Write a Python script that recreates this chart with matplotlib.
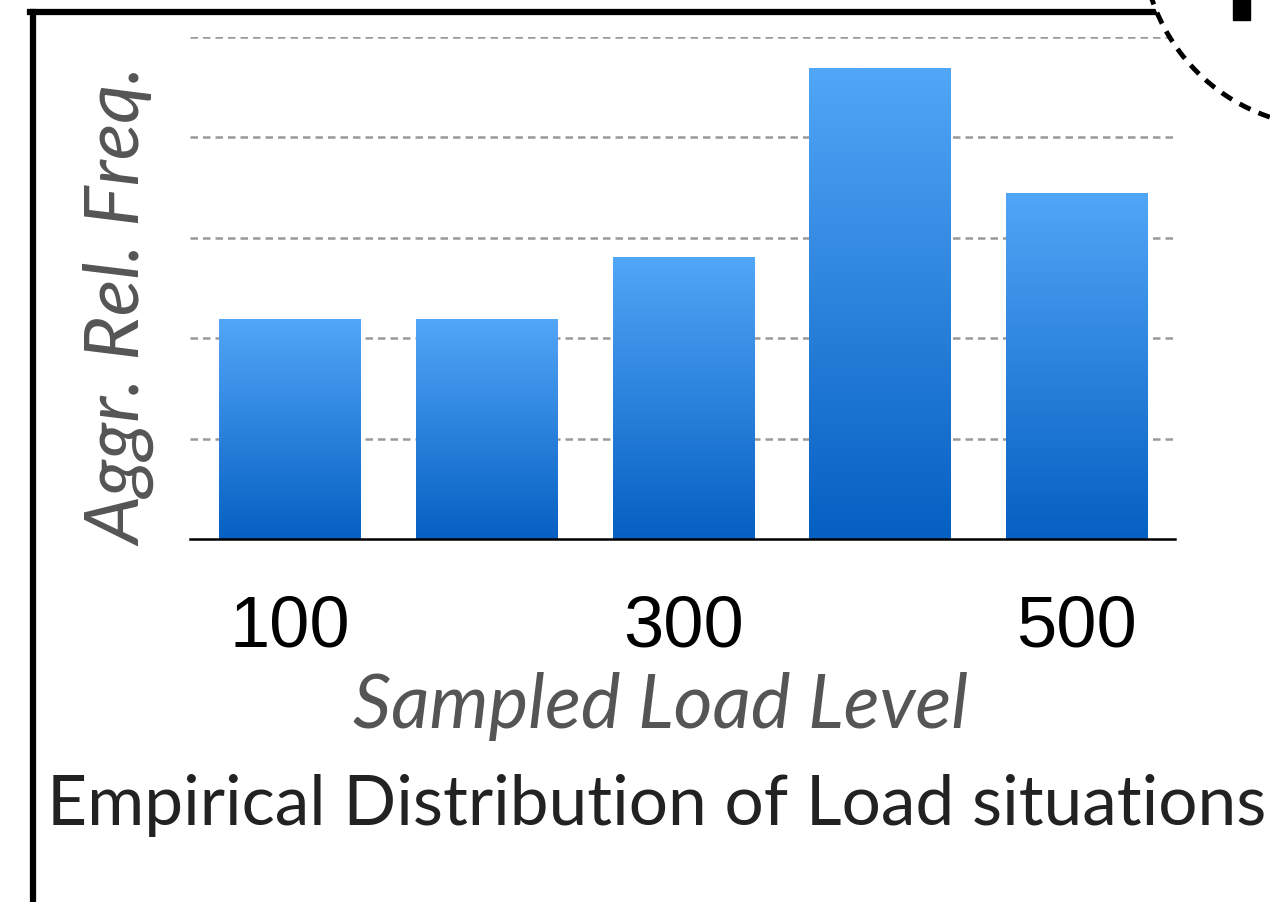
import numpy as np
import matplotlib
matplotlib.use("Agg")
import matplotlib.pyplot as plt
from matplotlib.patches import Rectangle, Circle
from matplotlib.lines import Line2D
from matplotlib.colors import LinearSegmentedColormap

load_levels = ["100", "200", "300", "400", "500"]
rel_freq = [2.19, 2.19, 2.81, 4.69, 3.45]
shown_ticks = ["100", "", "300", "", "500"]

fig = plt.figure(figsize=(12.7, 9.03), dpi=100)
ax = fig.add_axes([0.1496, 0.402, 0.7756, 0.556])

x = np.arange(len(load_levels))
bars = ax.bar(x, rel_freq, width=0.72, color="none", edgecolor="none", zorder=3)

# vertical gradient for each bar
grad_cmap = LinearSegmentedColormap.from_list("blu", ["#0660C2", "#52A6F7"])
grad = np.linspace(0, 1, 256).reshape(-1, 1)
for b in bars:
    x0, w, h = b.get_x(), b.get_width(), b.get_height()
    im = ax.imshow(grad, cmap=grad_cmap, origin="lower", aspect="auto",
                   extent=[x0, x0 + w, 0, h], zorder=3)
    im.set_clip_path(b)

ax.set_xlim(-0.51, 4.5)
ax.set_ylim(0, 5)
ax.set_yticks([1, 2, 3, 4, 5])
ax.yaxis.grid(True, color="#999999", linestyle=(0, (3, 2)), linewidth=1.8, zorder=0)
ax.tick_params(axis="y", left=False, labelleft=False)
ax.tick_params(axis="x", bottom=False, pad=36)
ax.set_xticks(x)
ax.set_xticklabels(shown_ticks, fontsize=52, family="Liberation Sans")
for s in ["top", "right", "left"]:
    ax.spines[s].set_visible(False)
ax.spines["bottom"].set_linewidth(1.8)
ax.spines["bottom"].set_zorder(4)

fig.text(0.52, 0.218, "Sampled Load Level", fontsize=54, style="italic",
         color="#555555", family="Lato", ha="center", va="center")
fig.text(0.095, 0.66, "Aggr. Rel. Freq.", fontsize=55, style="italic",
         color="#555555", family="Lato", ha="center", va="center", rotation=90)
fig.text(0.037, 0.108, "Empirical Distribution of Load situations", fontsize=50,
         color="#222222", family="Lato", ha="left", va="center")

# frame around the panel
fig.add_artist(Line2D([0.026, 0.026], [0.0, 0.986], color="black", lw=4.5,
                      transform=fig.transFigure))
fig.add_artist(Line2D([0.0236, 0.915], [0.986, 0.986], color="black", lw=4.5,
                      transform=fig.transFigure))

# dashed circle in the corner
circ = Circle((1330, 903 + 60), 188, transform=None, fill=True,
              facecolor="white", edgecolor="black", lw=3.5, linestyle=(0, (2.5, 1.8)),
              zorder=10)
fig.add_artist(circ)
fig.add_artist(Rectangle((1233 / 1270, 1 - 21 / 903), 17 / 1270, 21 / 903,
                         transform=fig.transFigure, color="black", zorder=11))

fig.savefig("out.png", dpi=100)
